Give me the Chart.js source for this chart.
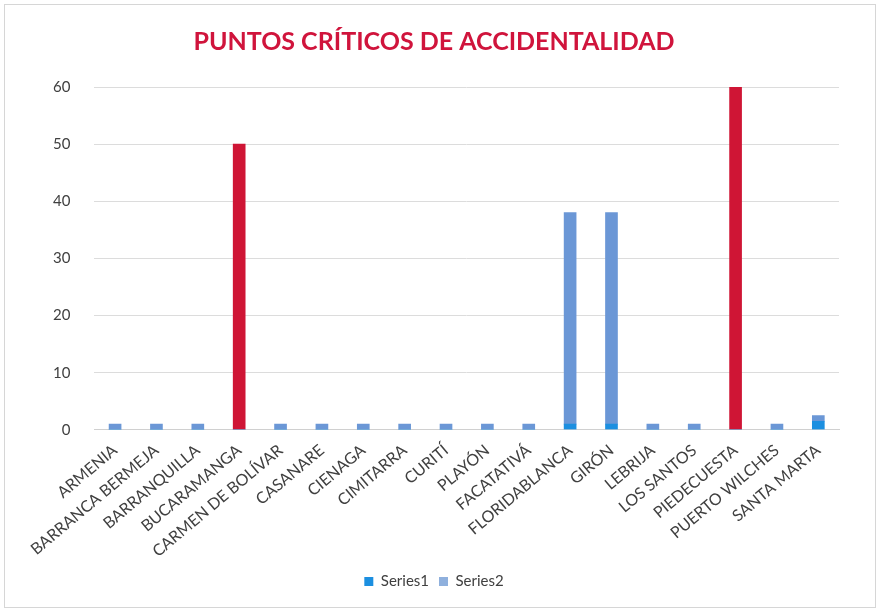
<!DOCTYPE html>
<html>
<head>
<meta charset="utf-8">
<script src="https://cdn.jsdelivr.net/npm/chart.js@4.4.0/dist/chart.umd.min.js"></script>
<style>
  html, body { margin: 0; padding: 0; background: #fff; }
  #wrap { position: absolute; left: 4px; top: 4px; width: 872px; height: 604px; border: 1px solid #d6d6d6; box-sizing: border-box; }
</style>
</head>
<body>
<div id="wrap"><canvas id="myChart"></canvas></div>
<script>
const categories = ['ARMENIA', 'BARRANCA BERMEJA', 'BARRANQUILLA', 'BUCARAMANGA', 'CARMEN DE BOLÍVAR',
  'CASANARE', 'CIENAGA', 'CIMITARRA', 'CURITÍ', 'PLAYÓN', 'FACATATIVÁ', 'FLORIDABLANCA',
  'GIRÓN', 'LEBRIJA', 'LOS SANTOS', 'PIEDECUESTA', 'PUERTO WILCHES', 'SANTA MARTA'];
const series2 = [1, 1, 1, 50, 1, 1, 1, 1, 1, 1, 1, 37, 37, 1, 1, 60, 1, 1];
const series1 = [0, 0, 0, 0, 0, 0, 0, 0, 0, 0, 0, 1, 1, 0, 0, 0, 0, 1.5];
const yTicks = [0, 10, 20, 30, 40, 50, 60];

const blue2 = '#6b97d6';
const red = '#cf1535';
const series2Colors = series2.map(v => v >= 45 ? red : blue2);

var ctx = document.getElementById('myChart').getContext('2d');
var myChart = new Chart(ctx, {
  type: 'bar',
  data: {
    labels: categories,
    datasets: [{
      label: 'Series1',
      data: series1,
      backgroundColor: '#1c8fe0',
      barThickness: 12,
      order: 1
    }, {
      label: 'Series2',
      data: series2,
      backgroundColor: series2Colors,
      barThickness: 12,
      order: 2
    }]
  },
  options: {
    responsive: true,
    maintainAspectRatio: false,
    animation: false,
    layout: { padding: { left: 24, right: 36, top: 8, bottom: 8 } },
    plugins: {
      title: {
        display: true,
        text: 'PUNTOS CRÍTICOS DE ACCIDENTALIDAD',
        color: '#d0143c',
        font: { family: 'Lato', size: 25, weight: 'bold' },
        padding: { top: 14, bottom: 30 }
      },
      legend: {
        position: 'bottom',
        labels: {
          boxWidth: 9, boxHeight: 9,
          color: '#404040',
          font: { family: 'Lato', size: 15 },
          padding: 10,
          generateLabels: chart => chart.data.datasets.map((ds, i) => ({
            text: ds.label,
            fillStyle: i === 0 ? '#1c8fe0' : '#8fb0dd',
            strokeStyle: 'transparent',
            lineWidth: 0,
            datasetIndex: i,
            fontColor: '#404040'
          }))
        }
      },
      tooltip: { enabled: false }
    },
    scales: {
      y: {  // the value axis
        stacked: true,
        min: 0, max: 60,
        afterBuildTicks: axis => { axis.ticks = yTicks.map(v => ({ value: v })); },
        border: { display: false },
        grid: { color: '#dcdcdc', drawTicks: false },
        ticks: { padding: 24, color: '#404040', font: { family: 'Lato', size: 15 } }
      },
      x: {  // the categories
        stacked: true,
        border: { color: '#d0d0d0' },
        grid: { display: false },
        ticks: {
          autoSkip: false, minRotation: 40, maxRotation: 40,
          color: '#404040', font: { family: 'Lato', size: 16 }
        }
      }
    }
  }
});
</script>
</body>
</html>
